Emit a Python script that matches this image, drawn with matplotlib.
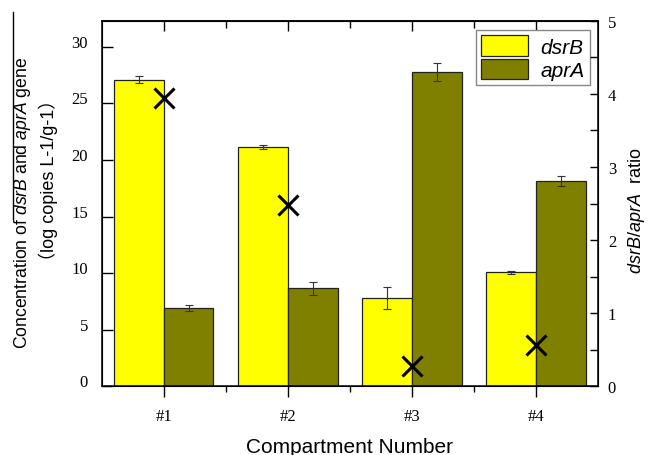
import matplotlib
matplotlib.use('Agg')
import matplotlib.pyplot as plt
import matplotlib.transforms as mtransforms
from matplotlib.lines import Line2D
import numpy as np

# data
compartments = ['#1', '#2', '#3', '#4']
dsrB = [27.1, 21.15, 7.8, 10.05]
dsrB_err = [0.3, 0.15, 0.95, 0.12]
aprA = [6.9, 8.65, 27.8, 18.1]
aprA_err = [0.28, 0.55, 0.8, 0.44]
ratio = [3.95, 2.48, 0.28, 0.56]

YELLOW = '#FFFF00'
OLIVE = '#808000'
SERIF = 'Liberation Serif'
SANS = 'Liberation Sans'

plt.rcParams['mathtext.fontset'] = 'custom'
plt.rcParams['mathtext.rm'] = 'Liberation Sans'
plt.rcParams['mathtext.it'] = 'Liberation Sans:italic'

fig = plt.figure(figsize=(6.48, 4.56), dpi=100)
ax = fig.add_axes([0.157, 0.151, 0.766, 0.801])

x = np.arange(1, len(compartments) + 1)
w = 0.4
ekw = dict(ecolor='#333333', elinewidth=0.8, capsize=3, capthick=0.8)
ax.bar(x - w/2, dsrB, w, yerr=dsrB_err, color=YELLOW, edgecolor='#222222', lw=0.9,
       error_kw=ekw, label='dsrB')
ax.bar(x + w/2, aprA, w, yerr=aprA_err, color=OLIVE, edgecolor='#222222', lw=0.9,
       error_kw=ekw, label='aprA')

ax.set_xlim(0.5, 4.5)
ax.set_ylim(0, 32.3)
ax.set_yticks(range(0, 31, 5))
ax.set_xticks(x)
ax.set_xticklabels(compartments, fontfamily=SERIF, fontsize=12)
ax.set_xticks(x[:-1] + 0.5, minor=True)
ax.tick_params(axis='x', which='major', direction='out', length=8, width=1, pad=8)
ax.tick_params(axis='x', which='minor', direction='out', length=4, width=1)
ax.tick_params(axis='y', which='major', direction='in', length=8, width=1, pad=10)
for lab in ax.get_yticklabels():
    lab.set_fontfamily(SERIF)
    lab.set_fontsize(12)
    lab.set_transform(lab.get_transform() + mtransforms.ScaledTranslation(0, 6/100, fig.dpi_scale_trans))
for sp in ax.spines.values():
    sp.set_linewidth(1.1)

# top ticks point inward
top = ax.secondary_xaxis('top')
top.set_xticks(x)
top.set_xticks(x[:-1] + 0.5, minor=True)
top.tick_params(which='major', direction='in', length=7, width=1, labeltop=False)
top.tick_params(which='minor', direction='in', length=5, width=1)
top.spines['top'].set_linewidth(1.1)

ax.set_xlabel('Compartment Number', fontfamily=SANS, fontsize=15)
ax.xaxis.set_label_coords(0.5, -0.138)

# two-line left axis title, each line placed on its own
ax.text(-0.159, 0.504, 'Concentration of $\\it{dsrB}$ and $\\it{aprA}$ gene', transform=ax.transAxes,
        rotation=90, ha='center', va='center', fontfamily=SANS, fontsize=12.7)
ax.text(-0.108, 0.567, '\uff08log copies L-1/g-1\uff09', transform=ax.transAxes,
        rotation=90, ha='center', va='center', fontfamily=['Liberation Sans', 'Noto Sans CJK SC'], fontsize=13)

leg = ax.legend(loc='upper right', bbox_to_anchor=(0.983, 0.975), prop=dict(family=SANS, style='italic', size=15),
                handlelength=2.25, handleheight=1.15, handletextpad=0.6, labelspacing=0.1,
                borderpad=0.25, fancybox=False, edgecolor='#888888', framealpha=1, borderaxespad=0)
leg.get_frame().set_linewidth(1.0)

ax2 = ax.twinx()
ax2.plot(x, ratio, linestyle='none', marker='x', markersize=15, markeredgewidth=2.2, color='black')
ax2.set_ylim(0, 5)
ax2.set_yticks(range(0, 6))
ax2.set_yticks(np.arange(0.5, 5, 1), minor=True)
ax2.tick_params(axis='y', which='major', direction='in', length=6, width=1, pad=7)
ax2.tick_params(axis='y', which='minor', direction='in', length=6, width=1)
for lab in ax2.get_yticklabels():
    lab.set_fontfamily(SERIF)
    lab.set_fontsize(12)
ax2.set_ylabel('$\\it{dsrB/aprA}$  ratio', fontfamily=SANS, fontsize=13)
ax2.yaxis.set_label_coords(1.057, 0.482)

# stray rule in the reference near the left edge
fig.add_artist(Line2D([13/648, 13/648], [1 - 13/456, 1 - 220/456], color='black', lw=1))

fig.savefig('out.png', dpi=100)
